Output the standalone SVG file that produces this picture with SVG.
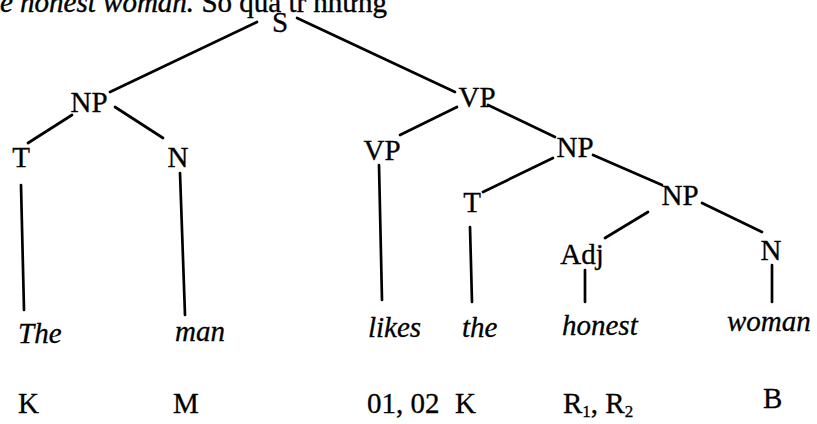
<svg xmlns="http://www.w3.org/2000/svg" width="817" height="424" viewBox="0 0 817 424">
<style>
.lbl{font-family:"Liberation Serif","Times New Roman",serif;font-size:29px;fill:#000;stroke:#000;stroke-width:0.3;text-anchor:middle}
.word{font-family:"Liberation Serif","Times New Roman",serif;font-size:29px;font-style:italic;fill:#000;stroke:#000;stroke-width:0.3}
.code{font-family:"Liberation Serif","Times New Roman",serif;font-size:29px;fill:#000;stroke:#000;stroke-width:0.3}
.top{font-family:"Liberation Serif","Times New Roman",serif;font-size:29px;fill:#000;stroke:#000;stroke-width:0.4}
.edges line{stroke:#000;stroke-width:2.7;stroke-linecap:round}
</style>
<rect width="817" height="424" fill="#fff"/>
<g id="header">
<text class="top" x="0" y="12"><tspan font-style="italic">e honest woman.</tspan> Số quả tr những</text>
</g>
<g class="edges" id="connectors">
<line x1="257" y1="22" x2="110" y2="92"/>
<line x1="297" y1="18" x2="455" y2="92"/>
<line x1="72" y1="115" x2="28" y2="143"/>
<line x1="115" y1="107" x2="163" y2="138"/>
<line x1="21" y1="185" x2="24" y2="310"/>
<line x1="180" y1="173" x2="185" y2="315"/>
<line x1="457" y1="107" x2="400" y2="135"/>
<line x1="488" y1="105" x2="555" y2="137"/>
<line x1="379" y1="165" x2="382" y2="300"/>
<line x1="553" y1="158" x2="483" y2="192"/>
<line x1="593" y1="155" x2="662" y2="185"/>
<line x1="470" y1="227" x2="472" y2="302"/>
<line x1="648" y1="212" x2="605" y2="238"/>
<line x1="702" y1="203" x2="762" y2="232"/>
<line x1="585" y1="270" x2="585" y2="302"/>
<line x1="772" y1="265" x2="772" y2="302"/>
</g>
<g id="n-S"><text class="lbl" x="280" y="32">S</text></g>
<g id="n-NP1"><text class="lbl" x="89" y="112">NP</text></g>
<g id="n-VP1"><text class="lbl" x="477" y="107">VP</text></g>
<g id="n-T1"><text class="lbl" x="21" y="167">T</text></g>
<g id="n-N1"><text class="lbl" x="178" y="167">N</text></g>
<g id="n-VP2"><text class="lbl" x="382" y="160">VP</text></g>
<g id="n-NP2"><text class="lbl" x="575" y="157">NP</text></g>
<g id="n-T2"><text class="lbl" x="472" y="212">T</text></g>
<g id="n-NP3"><text class="lbl" x="680" y="205">NP</text></g>
<g id="n-Adj"><text class="lbl" x="582" y="264">Adj</text></g>
<g id="n-N2"><text class="lbl" x="771" y="260">N</text></g>
<g id="w-The"><text class="word" x="18" y="343">The</text><text class="code" x="18" y="413">K</text></g>
<g id="w-man"><text class="word" x="175" y="341">man</text><text class="code" x="173" y="413">M</text></g>
<g id="w-likes"><text class="word" x="368" y="337">likes</text><text class="code" x="367" y="413">01, 02</text></g>
<g id="w-the"><text class="word" x="462" y="337">the</text><text class="code" x="455" y="413">K</text></g>
<g id="w-honest"><text class="word" x="562" y="335">honest</text><text class="code" x="563" y="413">R<tspan font-size="17" dy="4">1</tspan><tspan dy="-4">, R</tspan><tspan font-size="17" dy="4">2</tspan></text></g>
<g id="w-woman"><text class="word" x="727" y="331">woman</text><text class="code" x="763" y="408">B</text></g>
</svg>
